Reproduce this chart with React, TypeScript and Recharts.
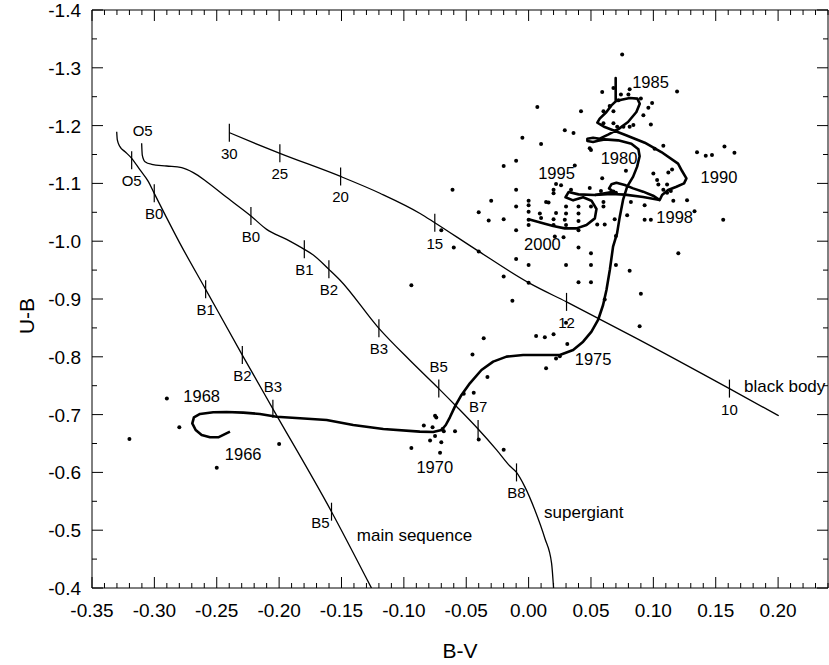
import React from 'react';
import {
    ComposedChart,
    Line,
    Scatter,
    XAxis,
    YAxis,
    ReferenceArea,
    Label
} from 'recharts';

// plot frame in page pixels
const PLOT_TOP = 10;
const PLOT_RIGHT = 828;
const FONT = '"Liberation Sans", Arial, Helvetica, sans-serif';

// B-V / U-B pairs
const mainSequence: [number, number][] = [
    [-0.3302, -1.1895], [-0.3297, -1.1751], [-0.3276, -1.1636], [-0.3235, -1.1549], [-0.3182, -1.1434],
    [-0.3115, -1.1232], [-0.3048, -1.103], [-0.3001, -1.0828], [-0.2795, -0.9963], [-0.2589, -0.9167],
    [-0.2295, -0.803], [-0.205, -0.71], [-0.158, -0.532], [-0.126, -0.4]
];

const supergiant: [number, number][] = [
    [-0.3102, -1.1693], [-0.3097, -1.1491], [-0.3075, -1.1376], [-0.3022, -1.133], [-0.2902, -1.1301],
    [-0.2781, -1.1272], [-0.2688, -1.1186], [-0.2581, -1.103], [-0.2421, -1.0759], [-0.2226, -1.0436],
    [-0.21, -1.0205], [-0.194, -1.0032], [-0.1798, -0.9859], [-0.1726, -0.9761], [-0.1601, -0.9513],
    [-0.1513, -0.9329], [-0.12, -0.8492], [-0.0952, -0.794], [-0.072, -0.745], [-0.0578, -0.714],
    [-0.0405, -0.675], [-0.0257, -0.639], [-0.015, -0.611], [-0.0097, -0.6], [-0.003, -0.575],
    [0.005, -0.535], [0.013, -0.486], [0.0184, -0.443], [0.02, -0.4]
];

const blackBody: [number, number][] = [
    [-0.2399, -1.1878], [-0.2207, -1.1705], [-0.1994, -1.152], [-0.1507, -1.112], [-0.1192, -1.083],
    [-0.087, -1.048], [-0.0752, -1.032], [-0.0418, -0.985], [0.001, -0.927], [0.0304, -0.895],
    [0.0865, -0.832], [0.161, -0.745], [0.2005, -0.698]
];

// star's track 1966 -> 2000
const track: [number, number][] = [
    [-0.2394, -0.6705], [-0.2488, -0.6607], [-0.2554, -0.6607], [-0.2621, -0.6647], [-0.2669, -0.6734],
    [-0.2696, -0.6849], [-0.2683, -0.6953], [-0.2634, -0.7011], [-0.2528, -0.704], [-0.2421, -0.7046],
    [-0.2287, -0.7034], [-0.2154, -0.7011], [-0.202, -0.6964], [-0.1833, -0.6936], [-0.1619, -0.6907],
    [-0.1406, -0.682], [-0.1165, -0.6751], [-0.0872, -0.6705], [-0.0765, -0.6699], [-0.0698, -0.6734],
    [-0.0664, -0.682], [-0.0631, -0.6953], [-0.0591, -0.7138], [-0.0538, -0.734], [-0.0471, -0.7541],
    [-0.0378, -0.7772], [-0.0284, -0.7916], [-0.0177, -0.8003], [-0.0044, -0.8031], [0.0116, -0.8031],
    [0.025, -0.8031], [0.0357, -0.8118], [0.0437, -0.8262], [0.0504, -0.8435], [0.0557, -0.8637],
    [0.0597, -0.8896], [0.0624, -0.9156], [0.0651, -0.9502], [0.0677, -0.9906], [0.0709, -1.0136],
    [0.0731, -1.0425], [0.0757, -1.0713], [0.079, -1.0944], [0.0838, -1.1117], [0.087, -1.129],
    [0.089, -1.147], [0.088, -1.159], [0.0824, -1.1687], [0.0717, -1.1745], [0.061, -1.1762],
    [0.0557, -1.1739], [0.0517, -1.1716], [0.0471, -1.1733], [0.0471, -1.1774], [0.0517, -1.1791],
    [0.057, -1.1774], [0.0637, -1.1843], [0.0717, -1.1935], [0.0797, -1.2062], [0.0864, -1.2235],
    [0.0891, -1.2379], [0.0872, -1.2466], [0.0811, -1.2477], [0.0744, -1.2448], [0.0698, -1.242],
    [0.0698, -1.2823], [0.0698, -1.242], [0.0664, -1.235], [0.0624, -1.2235], [0.057, -1.212],
    [0.0551, -1.205], [0.061, -1.1975], [0.0771, -1.1843], [0.0931, -1.1704], [0.1064, -1.1543],
    [0.1198, -1.1341], [0.123, -1.1214], [0.1265, -1.1087], [0.1246, -1.1001], [0.1185, -1.0943],
    [0.1118, -1.0885], [0.107, -1.0799], [0.1051, -1.0712], [0.0998, -1.0787], [0.0918, -1.0857],
    [0.0838, -1.0914], [0.0771, -1.0972], [0.0704, -1.1012], [0.0664, -1.0984], [0.0645, -1.0914],
    [0.0678, -1.0857], [0.0531, -1.0799], [0.04, -1.081], [0.032, -1.085], [0.0296, -1.076],
    [0.0357, -1.0707], [0.0437, -1.0759], [0.0504, -1.0701], [0.0544, -1.0557], [0.0531, -1.0395],
    [0.0464, -1.028], [0.0384, -1.0222], [0.029, -1.0222], [0.0197, -1.0263], [0.013, -1.0303],
    [0.0, -1.038]
];

const trackLink: [number, number][] = [
    [0.0531, -1.0799], [0.0664, -1.0816], [0.0771, -1.0805], [0.0918, -1.0764], [0.1051, -1.0712]
];

const observations: [number, number][] = [
    [0.075, -1.323], [0.119, -1.259], [0.059, -1.258], [0.068, -1.265], [0.074, -1.254], [0.081, -1.263],
    [0.08, -1.254], [0.09, -1.247], [0.007, -1.232], [0.042, -1.225], [0.06, -1.225], [0.065, -1.234],
    [0.068, -1.225], [0.072, -1.244], [0.096, -1.231], [0.099, -1.239], [0.098, -1.202], [0.092, -1.218],
    [0.029, -1.192], [0.036, -1.187], [0.06, -1.204], [0.068, -1.204], [0.071, -1.198], [0.076, -1.198],
    [0.081, -1.198], [0.084, -1.201], [-0.005, -1.179], [0.01, -1.168], [0.049, -1.161], [0.05, -1.158],
    [0.108, -1.165], [0.101, -1.16], [0.135, -1.154], [0.142, -1.148], [0.147, -1.149], [0.157, -1.164],
    [0.165, -1.153], [-0.02, -1.13], [-0.01, -1.139], [0.037, -1.131], [0.078, -1.122], [0.1, -1.117],
    [0.112, -1.119], [0.115, -1.124], [0.103, -1.106], [0.104, -1.098], [0.111, -1.098], [0.059, -1.109],
    [-0.061, -1.089], [-0.01, -1.089], [0.022, -1.099], [0.026, -1.097], [0.02, -1.089], [0.02, -1.083],
    [0.034, -1.089], [0.049, -1.092], [0.058, -1.087], [0.068, -1.086], [0.07, -1.084], [0.108, -1.089],
    [0.111, -1.084], [0.114, -1.087], [-0.03, -1.07], [0.0, -1.07], [0.0, -1.062], [0.014, -1.068],
    [0.016, -1.067], [0.03, -1.06], [0.04, -1.06], [0.06, -1.068], [0.06, -1.06], [0.082, -1.068],
    [0.093, -1.062], [0.116, -1.07], [0.127, -1.071], [-0.04, -1.05], [0.0, -1.051], [0.009, -1.048],
    [0.022, -1.049], [0.03, -1.048], [0.04, -1.048], [0.05, -1.06], [0.079, -1.045], [0.133, -1.052],
    [-0.032, -1.036], [-0.02, -1.038], [-0.01, -1.06], [0.0, -1.037], [0.01, -1.04], [0.02, -1.038],
    [0.029, -1.037], [0.04, -1.035], [0.055, -1.029], [0.061, -1.029], [0.069, -1.038], [0.093, -1.037],
    [0.098, -1.037], [0.156, -1.037], [-0.07, -1.019], [-0.01, -1.019], [0.0, -1.028], [0.02, -1.028],
    [0.03, -1.028], [0.04, -1.019], [0.07, -1.009], [0.021, -1.008], [0.028, -1.007], [-0.06, -0.989],
    [-0.04, -0.982], [-0.01, -0.969], [0.04, -0.989], [0.05, -0.979], [0.12, -0.979], [0.0, -0.959],
    [0.03, -0.959], [0.05, -0.959], [0.07, -0.959], [0.081, -0.949], [-0.094, -0.924], [-0.02, -0.939],
    [0.0, -0.928], [0.04, -0.929], [0.05, -0.929], [-0.013, -0.897], [0.09, -0.909], [0.061, -0.899],
    [0.03, -0.859], [0.089, -0.853], [0.006, -0.836], [0.013, -0.834], [0.02, -0.839], [-0.036, -0.832],
    [0.031, -0.822], [-0.045, -0.804], [0.022, -0.797], [0.025, -0.801], [0.014, -0.78],
    [-0.033, -0.765], [-0.052, -0.736], [-0.044, -0.738], [-0.084, -0.681], [-0.077, -0.678],
    [-0.075, -0.698], [-0.074, -0.695], [-0.069, -0.675], [-0.068, -0.671], [-0.079, -0.655],
    [-0.075, -0.663], [-0.07, -0.652], [-0.071, -0.634], [-0.059, -0.671], [-0.04, -0.657], [-0.02, -0.639],
    [-0.29, -0.728], [-0.28, -0.678], [-0.32, -0.658], [-0.25, -0.608], [-0.2, -0.649], [-0.094, -0.642]
];

// spectral type / temperature marks on the reference curves: label, B-V, U-B, label side
const mainSequenceMarks: [string, number, number, string][] = [
    ['O5', -0.3182, -1.14, 'below'], ['B0', -0.3001, -1.0828, 'below'], ['B1', -0.2589, -0.9167, 'below'],
    ['B2', -0.2295, -0.803, 'below'], ['B3', -0.205, -0.71, 'above'], ['B5', -0.158, -0.532, 'left']
];
const supergiantMarks: [string, number, number, string][] = [
    ['B0', -0.2226, -1.0436, 'below'], ['B1', -0.1798, -0.9859, 'below'], ['B2', -0.1601, -0.9513, 'below'],
    ['B3', -0.12, -0.8492, 'below'], ['B5', -0.072, -0.745, 'above'], ['B7', -0.0405, -0.675, 'above'],
    ['B8', -0.0097, -0.6, 'below']
];
const blackBodyMarks: [string, number, number, string][] = [
    ['30', -0.2399, -1.1878, 'below'], ['25', -0.1994, -1.152, 'below'], ['20', -0.1507, -1.112, 'below'],
    ['15', -0.0752, -1.032, 'below'], ['12', 0.0304, -0.895, 'below'], ['10', 0.161, -0.745, 'below']
];

const yearLabels: [string, number, number][] = [
    ['1966', -0.2288, -0.6318], ['1968', -0.2621, -0.7327], ['1970', -0.0752, -0.6088],
    ['1975', 0.0517, -0.7957], ['1980', 0.0725, -1.1434], ['1985', 0.0977, -1.2749],
    ['1990', 0.1526, -1.1116], ['1995', 0.0224, -1.1185], ['1998', 0.1171, -1.0424],
    ['2000', 0.0111, -0.9952]
];

const curveNames: [string, number, number][] = [
    ['main sequence', -0.1377, -0.4917], ['supergiant', 0.0124, -0.532], ['black body', 0.1727, -0.7495],
    ['O5', -0.3094, -1.1907]
];

const xMin = -0.35;
const xMax = 0.24;
const xTicks = Array.from({ length: 60 }, (_, i) => Math.round((xMin + i * 0.01) * 100) / 100);
const yTicks = Array.from({ length: 21 }, (_, i) => Math.round((-1.4 + i * 0.05) * 100) / 100);

const pts = (arr: [number, number][]) => arr.map(([v, u]) => ({ v, u }));
const marks = (arr: [string, number, number, string][]) =>
    arr.map(([label, v, u, side]) => ({ label, v, u, side }));
const texts = (arr: [string, number, number][]) => arr.map(([label, v, u]) => ({ label, v, u }));

const sideOffset: Record<string, { dx: number; dy: number }> = {
    below: { dx: 0, dy: 21 },
    above: { dx: 0, dy: -22 },
    left: { dx: -11, dy: 11 }
};

const onStep = (value: number, step: number) => Math.abs(value / step - Math.round(value / step)) < 1e-6;

const XTick = (props: any) => {
    const { x, y, payload } = props;
    const major = onStep(payload.value, 0.05);
    const len = major ? 11 : 5;
    return (
        <g>
            <line x1={x} x2={x} y1={y} y2={y - len} stroke="#000" />
            <line x1={x} x2={x} y1={PLOT_TOP} y2={PLOT_TOP + len} stroke="#000" />
            {major && (
                <text x={x} y={y + 29} textAnchor="middle" fontSize={19} fontFamily={FONT} fill="#000">
                    {payload.value.toFixed(2)}
                </text>
            )}
        </g>
    );
};

const YTick = (props: any) => {
    const { x, y, payload } = props;
    const major = onStep(payload.value, 0.1);
    const len = major ? 11 : 5;
    return (
        <g>
            <line x1={x} x2={x + len} y1={y} y2={y} stroke="#000" />
            <line x1={PLOT_RIGHT - len} x2={PLOT_RIGHT} y1={y} y2={y} stroke="#000" />
            {major && (
                <text x={x - 11} y={y + 7} textAnchor="end" fontSize={19} fontFamily={FONT} fill="#000">
                    {payload.value.toFixed(1)}
                </text>
            )}
        </g>
    );
};

const MarkShape = (props: any) => {
    const { cx, cy, payload } = props;
    const off = sideOffset[payload.side];
    return (
        <g>
            <line x1={cx} x2={cx} y1={cy - 9} y2={cy + 9} stroke="#000" strokeWidth={1.2} />
            <text x={cx + off.dx} y={cy + off.dy + 5} textAnchor="middle" fontSize={15} fontFamily={FONT} fill="#000">
                {payload.label}
            </text>
        </g>
    );
};

const YearShape = (props: any) => {
    const { cx, cy, payload } = props;
    return (
        <text x={cx} y={cy + 6} textAnchor="middle" fontSize={16.5} fontFamily={FONT} fill="#000">
            {payload.label}
        </text>
    );
};

const NameShape = (props: any) => {
    const { cx, cy, payload } = props;
    const short = payload.label.length < 3;
    return (
        <text
            x={cx}
            y={cy + (short ? 5 : 6)}
            textAnchor={short ? 'middle' : 'start'}
            fontSize={short ? 15 : 17}
            fontFamily={FONT}
            fill="#000"
        >
            {payload.label}
        </text>
    );
};

const DotShape = (props: any) => <circle cx={props.cx} cy={props.cy} r={2} fill="#000" />;

export default function App() {
    return (
        <div style={{ position: 'absolute', left: 0, top: 0, width: 829, height: 665, background: '#fff' }}>
            <ComposedChart
                width={829}
                height={665}
                margin={{ top: PLOT_TOP, right: 829 - PLOT_RIGHT, left: 0, bottom: 0 }}
                style={{ fontFamily: FONT }}
            >
                <XAxis
                    type="number"
                    dataKey="v"
                    domain={[xMin, xMax]}
                    ticks={xTicks}
                    interval={0}
                    allowDataOverflow
                    height={77}
                    tickSize={0}
                    tickMargin={0}
                    tickLine={false}
                    axisLine={false}
                    tick={<XTick />}
                >
                    <Label
                        content={() => (
                            <text x={460} y={658} textAnchor="middle" fontSize={21} fontFamily={FONT} fill="#000">
                                B-V
                            </text>
                        )}
                    />
                </XAxis>
                <YAxis
                    type="number"
                    dataKey="u"
                    domain={[-1.4, -0.4]}
                    reversed
                    ticks={yTicks}
                    interval={0}
                    allowDataOverflow
                    width={92}
                    tickSize={0}
                    tickMargin={0}
                    tickLine={false}
                    axisLine={false}
                    tick={<YTick />}
                >
                    <Label
                        content={() => (
                            <text
                                transform="translate(33.5,316) rotate(-90)"
                                textAnchor="middle"
                                fontSize={21}
                                fontFamily={FONT}
                                fill="#000"
                            >
                                U-B
                            </text>
                        )}
                    />
                </YAxis>

                <ReferenceArea x1={xMin} x2={xMax} y1={-1.4} y2={-0.4} fill="none" stroke="#000" strokeWidth={1} />

                <Line data={pts(mainSequence)} dataKey="u" type="monotone" stroke="#000" strokeWidth={1.3} dot={false} activeDot={false} isAnimationActive={false} />
                <Line data={pts(supergiant)} dataKey="u" type="monotone" stroke="#000" strokeWidth={1.3} dot={false} activeDot={false} isAnimationActive={false} />
                <Line data={pts(blackBody)} dataKey="u" type="monotone" stroke="#000" strokeWidth={1.3} dot={false} activeDot={false} isAnimationActive={false} />
                <Line data={pts(track)} dataKey="u" type="linear" stroke="#000" strokeWidth={2.6} strokeLinejoin="round" dot={false} activeDot={false} isAnimationActive={false} />
                <Line data={pts(trackLink)} dataKey="u" type="linear" stroke="#000" strokeWidth={2.6} dot={false} activeDot={false} isAnimationActive={false} />

                <Scatter data={pts(observations)} shape={<DotShape />} isAnimationActive={false} />
                <Scatter data={marks(mainSequenceMarks)} shape={<MarkShape />} isAnimationActive={false} />
                <Scatter data={marks(supergiantMarks)} shape={<MarkShape />} isAnimationActive={false} />
                <Scatter data={marks(blackBodyMarks)} shape={<MarkShape />} isAnimationActive={false} />
                <Scatter data={texts(yearLabels)} shape={<YearShape />} isAnimationActive={false} />
                <Scatter data={texts(curveNames)} shape={<NameShape />} isAnimationActive={false} />
            </ComposedChart>
        </div>
    );
}
